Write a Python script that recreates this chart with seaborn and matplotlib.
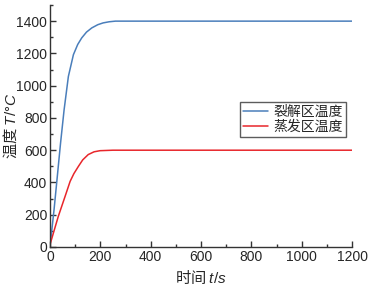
import matplotlib
matplotlib.use("Agg")
import matplotlib.pyplot as plt
from matplotlib.ticker import MultipleLocator
import seaborn as sns
import pandas as pd

# data
t_crack = [0, 3, 16, 29, 42, 56, 73, 93, 110, 126, 145, 166, 190, 211, 235, 260, 300, 600, 900, 1200]
T_crack = [20, 45, 230, 437, 645, 850, 1057, 1192, 1255, 1296, 1332, 1358, 1378, 1389, 1396, 1400, 1400, 1400, 1400, 1400]
t_evap = [0, 33, 60, 80, 95, 113, 130, 152, 175, 199, 250, 300, 600, 900, 1200]
T_evap = [15, 190, 314, 407, 455, 500, 540, 573, 590, 597, 600, 600, 600, 600, 600]
labels = ["裂解区温度", "蒸发区温度"]
colors = ["#4a7ebb", "#e8262b"]
xlabel = "时间 $t/s$"
ylabel = "温度 $T/°C$"

sns.set_theme(style="white")
plt.rcParams['font.family'] = ['Liberation Sans', 'Noto Sans CJK SC', 'DejaVu Sans']
plt.rcParams['mathtext.fontset'] = 'custom'
plt.rcParams['mathtext.it'] = 'Liberation Sans:italic'
plt.rcParams['mathtext.rm'] = 'Liberation Sans'

fig = plt.figure(figsize=(3.69, 2.88), dpi=100)
ax = fig.add_axes([50/369, 1-247/288, (352-50)/369, (247-5)/288])

df1 = pd.DataFrame({"t": t_crack, "T": T_crack})
df2 = pd.DataFrame({"t": t_evap, "T": T_evap})
sns.lineplot(data=df1, x="t", y="T", ax=ax, color=colors[0], lw=1.1, label=labels[0])
sns.lineplot(data=df2, x="t", y="T", ax=ax, color=colors[1], lw=1.1, label=labels[1])

ax.set_xlim(0, 1200)
ax.set_ylim(0, 1500)
ax.xaxis.set_major_locator(MultipleLocator(200))
ax.xaxis.set_minor_locator(MultipleLocator(100))
ax.yaxis.set_major_locator(MultipleLocator(200))
ax.yaxis.set_minor_locator(MultipleLocator(100))
ax.tick_params(which='major', direction='in', length=4, width=1, color='#333333', labelsize=10, pad=2)
ax.tick_params(which='minor', direction='in', length=2, width=1, color='#333333')
ax.tick_params(axis='both', which='both', bottom=True, left=True, top=False, right=False)
for s in ['top', 'right']:
    ax.spines[s].set_visible(False)
for s in ['left', 'bottom']:
    ax.spines[s].set_color('#333333')
    ax.spines[s].set_linewidth(1)

ax.set_xlabel(xlabel, fontsize=11, family='Noto Sans CJK SC')
ax.set_ylabel(ylabel, fontsize=11, family='Noto Sans CJK SC')
ax.xaxis.set_label_coords(0.5, -0.09)
ax.yaxis.set_label_coords(-0.10, 0.5)

leg = ax.legend(loc='upper right', bbox_to_anchor=(0.98, 0.60), frameon=True, fancybox=False,
                fontsize=10, handlelength=1.8, handletextpad=0.4, borderpad=0.2,
                labelspacing=0.1, borderaxespad=0)
leg.get_frame().set_edgecolor('#333333')
leg.get_frame().set_linewidth(1)

fig.savefig("out.png", dpi=100)
